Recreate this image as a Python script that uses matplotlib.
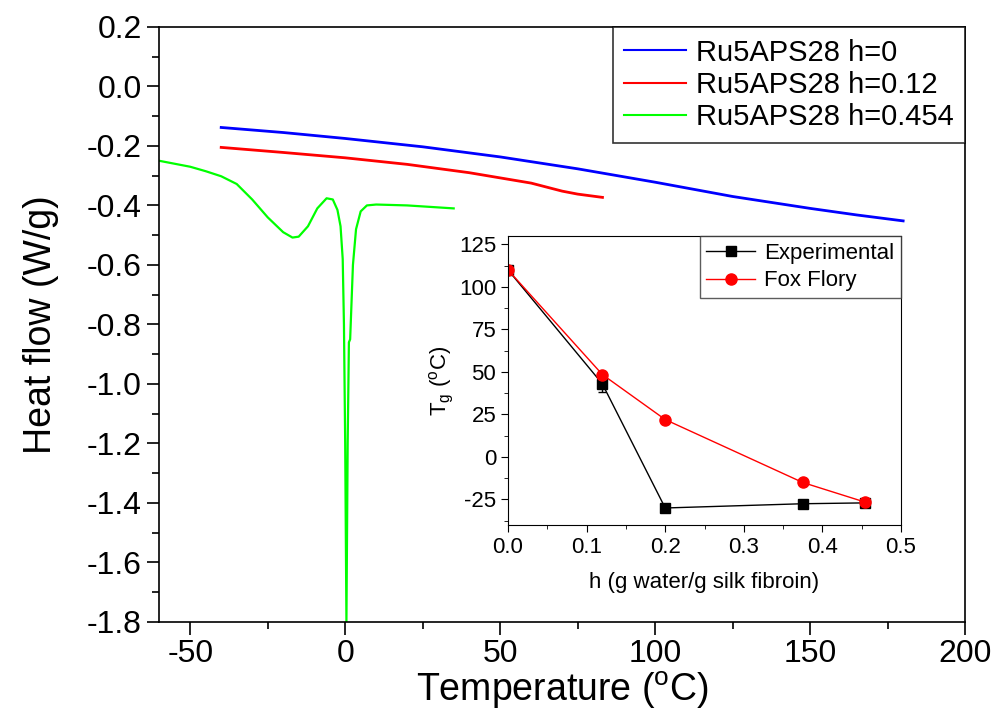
"""DSC heat flow curves for Ru5APS28 at three hydration levels, with Tg inset."""

import matplotlib.pyplot as plt
from matplotlib.ticker import MultipleLocator

plt.rcParams["font.family"] = ["Liberation Sans", "DejaVu Sans"]
plt.rcParams["mathtext.fontset"] = "custom"
plt.rcParams["mathtext.rm"] = "Liberation Sans"
plt.rcParams["mathtext.it"] = "Liberation Sans:italic"
plt.rcParams["axes.unicode_minus"] = False

# main DSC traces (temperature in C, heat flow in W/g)
t_h0 = [-40, -20, 0, 25, 50, 75, 100, 125, 150, 165, 180]
hf_h0 = [-0.138, -0.155, -0.175, -0.203, -0.237, -0.277, -0.322, -0.370, -0.410, -0.432, -0.452]

t_h012 = [-40, -20, 0, 20, 40, 60, 70, 75, 83]
hf_h012 = [-0.205, -0.222, -0.240, -0.262, -0.290, -0.325, -0.352, -0.362, -0.373]

t_h0454 = [-60, -50, -45, -40, -35, -30, -25, -20, -17, -15, -12, -9, -6, -4,
           -2.5, -1.5, -0.8, -0.4, 0.0, 0.4, 0.8, 1.2, 1.6, 2.5, 3.5, 5, 7, 10, 20, 35]
hf_h0454 = [-0.250, -0.270, -0.285, -0.302, -0.328, -0.380, -0.440, -0.490, -0.508, -0.505,
            -0.470, -0.410, -0.376, -0.380, -0.415, -0.470, -0.580, -0.800, -1.200, -1.800,
            -1.200, -0.860, -0.850, -0.600, -0.480, -0.420, -0.400, -0.397, -0.400, -0.410]

# inset: glass transition vs hydration
h_exp = [0.0, 0.12, 0.2, 0.375, 0.454]
tg_exp = [110, 43, -30, -27.5, -27]
tg_exp_err = [0, 5, 0, 0, 0]
h_ff = [0.0, 0.12, 0.2, 0.375, 0.454]
tg_ff = [110, 48.5, 22, -15, -26.5]

fig = plt.figure(figsize=(9.95, 7.17), dpi=100)
ax = fig.add_axes([0.160, 0.1325, 0.810, 0.830])

ax.plot(t_h0, hf_h0, color="#0000ff", linewidth=2.0, label="Ru5APS28 h=0")
ax.plot(t_h012, hf_h012, color="#ff0000", linewidth=2.0, label="Ru5APS28 h=0.12")
ax.plot(t_h0454, hf_h0454, color="#00ff00", linewidth=1.6, label="Ru5APS28 h=0.454")

ax.set_xlim(-60, 200)
ax.set_ylim(-1.8, 0.2)
ax.xaxis.set_major_locator(MultipleLocator(50))
ax.xaxis.set_minor_locator(MultipleLocator(25))
ax.yaxis.set_major_locator(MultipleLocator(0.2))
ax.yaxis.set_minor_locator(MultipleLocator(0.1))
ax.yaxis.set_major_formatter(plt.FuncFormatter(lambda v, _: f"{v:.1f}"))
ax.tick_params(which="major", direction="out", length=9, width=1.2, labelsize=23)
ax.tick_params(which="minor", direction="out", length=5, width=1.2)
ax.tick_params(axis="x", labelsize=23)
for spine in ax.spines.values():
    spine.set_linewidth(1.2)

ax.set_xlabel("Temperature ($^\\mathrm{o}$C)", fontsize=27, labelpad=0)
ax.set_ylabel("Heat flow (W/g)", fontsize=27, labelpad=20)

leg = ax.legend(loc="upper right", fontsize=21, frameon=True, fancybox=False,
                edgecolor="black", borderaxespad=0, handlelength=2.1,
                handletextpad=0.35, labelspacing=0.15, borderpad=0.4)
leg.get_frame().set_linewidth(1.2)
for line in leg.get_lines():
    line.set_linewidth(1.5)

# inset
ins = fig.add_axes([0.5106, 0.2678, 0.3949, 0.4031])
ins.errorbar(h_exp, tg_exp, yerr=tg_exp_err, fmt="none", ecolor="black",
             elinewidth=1.0, capsize=3)
ins.plot(h_exp, tg_exp, color="black", linewidth=1.0, marker="s",
         markersize=7, label="Experimental")
ins.plot(h_ff, tg_ff, color="#ff0000", linewidth=1.0, marker="o",
         markersize=8, label="Fox Flory")
ins.set_xlim(0, 0.5)
ins.set_ylim(-40, 130)
ins.xaxis.set_major_locator(MultipleLocator(0.1))
ins.xaxis.set_minor_locator(MultipleLocator(0.05))
ins.yaxis.set_major_locator(MultipleLocator(25))
ins.yaxis.set_minor_locator(MultipleLocator(12.5))
ins.xaxis.set_major_formatter(plt.FuncFormatter(lambda v, _: f"{v:.1f}"))
ins.tick_params(which="major", direction="out", length=5, labelsize=16)
ins.tick_params(which="minor", direction="out", length=3)
ins.set_xlabel("h (g water/g silk fibroin)", fontsize=16, labelpad=10)
ins.set_ylabel("T$_\\mathrm{g}$ ($^\\mathrm{o}$C)", fontsize=16, labelpad=2)

ileg = ins.legend(loc="upper right", fontsize=16, frameon=True, fancybox=False,
                  edgecolor="#333333", borderaxespad=0, handlelength=2.2,
                  handletextpad=0.4, labelspacing=0.3, borderpad=0.3)
ileg.get_frame().set_linewidth(1.0)

fig.savefig("out.png", dpi=100, facecolor="white")
